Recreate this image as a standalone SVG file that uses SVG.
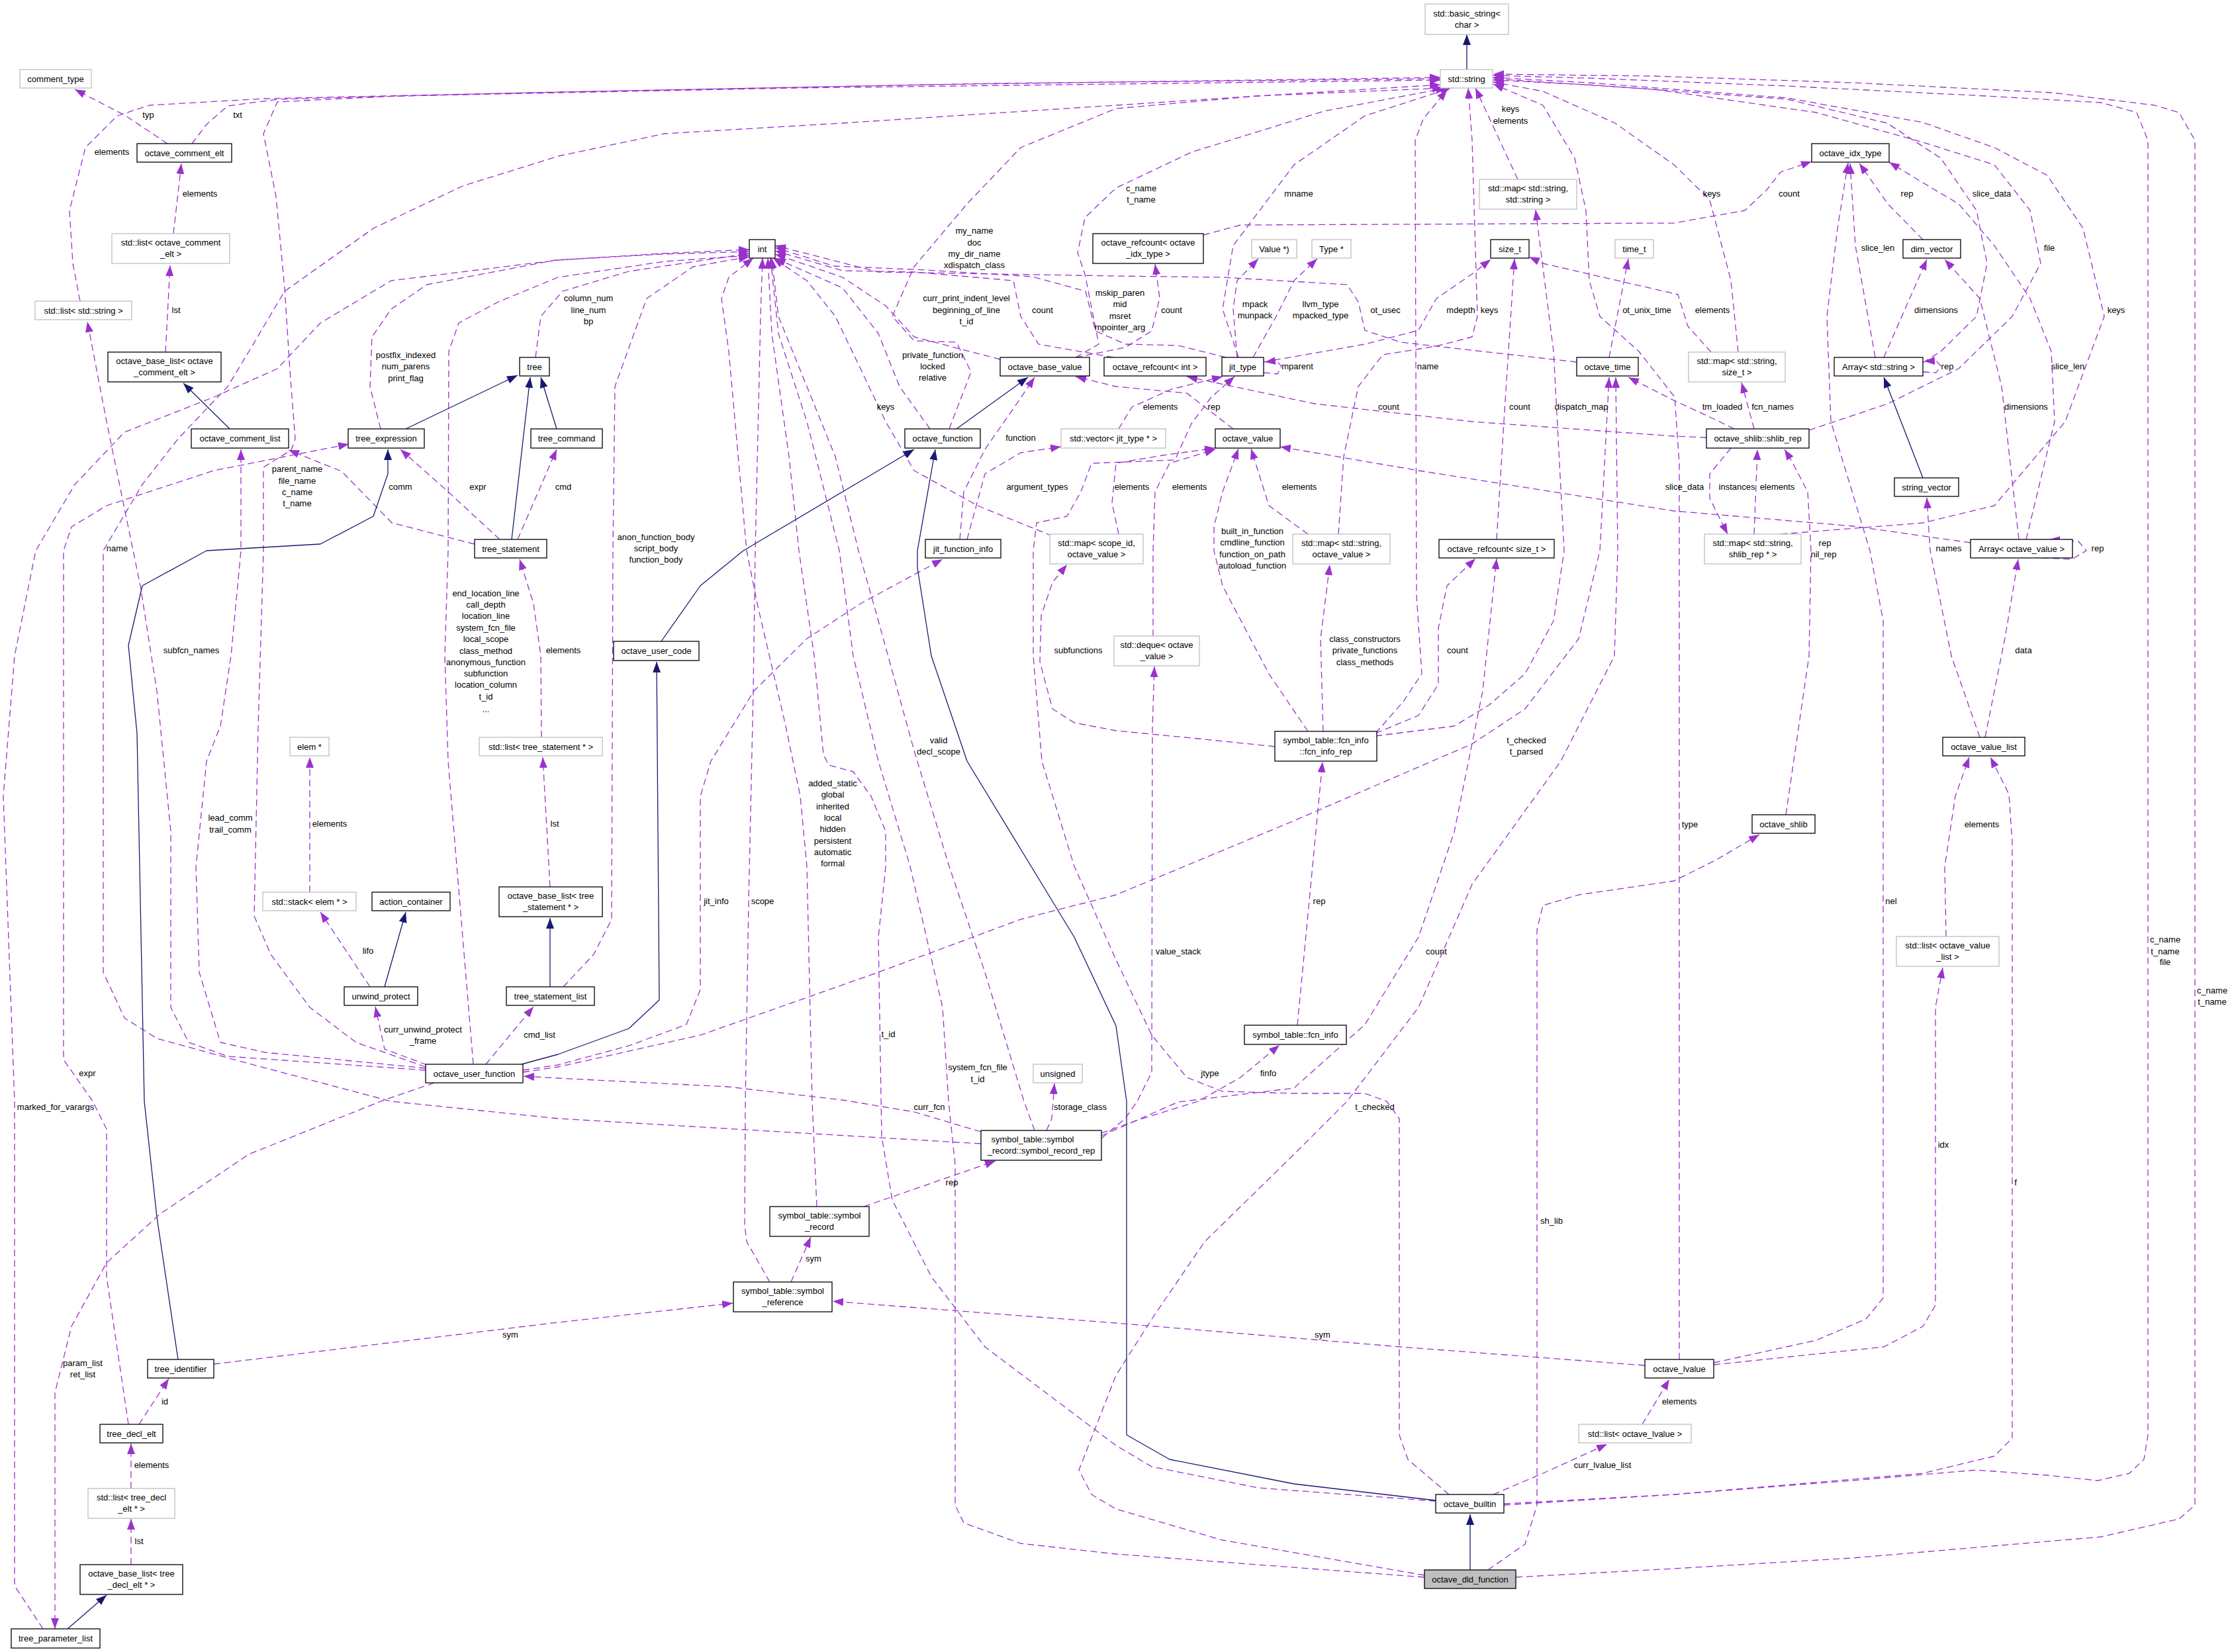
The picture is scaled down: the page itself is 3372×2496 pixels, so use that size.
<svg xmlns="http://www.w3.org/2000/svg" width="3372" height="2496" viewBox="0 0 3372 2496">
<style>
.n rect{fill:#fff;stroke:#000;stroke-width:1.3}
.g rect{fill:#fff;stroke:#bfbfbf;stroke-width:1.3}
text{font-family:"Liberation Sans",Arial,Helvetica,sans-serif;font-size:13px;fill:#000;text-anchor:middle}
.e{fill:none;stroke:#9a32cd;stroke-width:1.3;stroke-dasharray:10,6;stroke-linejoin:round;marker-end:url(#ap)}
.s{fill:none;stroke:#191970;stroke-width:1.3;stroke-linejoin:round;marker-end:url(#an)}
</style>
<defs>
<marker id="ap" markerUnits="userSpaceOnUse" markerWidth="16" markerHeight="12" refX="16" refY="6" orient="auto"><path d="M0,0 L16,6 L0,12 z" fill="#9a32cd" stroke="none"/></marker>
<marker id="an" markerUnits="userSpaceOnUse" markerWidth="16" markerHeight="12" refX="16" refY="6" orient="auto"><path d="M0,0 L16,6 L0,12 z" fill="#191970" stroke="none"/></marker>
</defs>
<rect x="0" y="0" width="3372" height="2496" fill="#fff"/>
<g id="edges">
<path class="s" d="M2216,105 L2216,52"/>
<path class="e" d="M253,217 L190,175 L113,135"/><text x="224" y="177.5">typ</text>
<path class="e" d="M290,217 L312,188 L344,160 L420,150 L800,140 L1400,128 L2176,117"/><text x="359" y="177.5">txt</text>
<path class="e" d="M121,455 L110,398 L105,318 L129,223 L177,175 L226,159 L400,149 L900,138 L1500,126 L2176,119"/><text x="169" y="233.5">elements</text>
<path class="e" d="M262,353 L274,247"/><text x="302" y="296.5">elements</text>
<path class="e" d="M250,532 L257,401"/><text x="266" y="472.5">lst</text>
<path class="s" d="M347,648 L277,579"/>
<path class="e" d="M643,1612 L538,1575 L468,1522 L409,1442 L384,1384 L390,1100 L398,832 L398,706 L440,680 L446,663 L438,560 L430,435 L417,297 L398,202 L419,154 L600,145 L1200,133 L2176,121"/>
<text x="449" y="712.5">parent_name</text><text x="449" y="730.5">file_name</text><text x="449" y="747.5">c_name</text><text x="449" y="764.5">t_name</text>
<path class="e" d="M1482,1728 L843,1690 L591,1664 L376,1607 L237,1569 L188,1538 L156,1469 L156,885 L156,832 L215,732 L269,663 L344,584 L376,531 L430,440 L564,345 L699,281 L843,236 L1004,202 L1273,186 L1686,159 L1900,145 L2176,128"/><text x="177" y="832.5">name</text>
<path class="e" d="M1434,648 L1467,562 L1445,517 L1381,515 L1348,478 L1381,403 L1461,308 L1542,223 L1686,164 L1900,145 L2180,133"/>
<text x="1472" y="353">my_name</text><text x="1472" y="370.5">doc</text><text x="1472" y="387.5">my_dir_name</text><text x="1472" y="405">xdispatch_class</text>
<path class="e" d="M1625,540 L1660,520 L1639,414 L1628,382 L1639,329 L1686,284 L1800,230 L2000,168 L2185,133"/>
<text x="1724" y="288.5">c_name</text><text x="1724" y="305.5">t_name</text>
<path class="e" d="M1871,540 L1847,467 L1863,371 L1955,249 L2062,175 L2192,133"/><text x="1962" y="296.5">mname</text>
<path class="e" d="M2293,271 L2260,200 L2229,133"/><text x="2282" y="169">keys</text><text x="2282" y="186.5">elements</text>
<path class="e" d="M2078,1108 L2120,1060 L2148,1018 L2140,900 L2138,212 L2150,180 L2186,136"/><text x="2157" y="557.5">name</text>
<path class="e" d="M2022,807 L2030,690 L2052,584 L2089,536 L2170,523 L2224,509 L2232,478 L2224,212 L2218,133"/><text x="2250" y="473">keys</text>
<path class="e" d="M2537,2054 L2537,700 L2530,600 L2476,531 L2417,478 L2401,424 L2396,318 L2379,239 L2331,159 L2256,127"/><text x="2553" y="1249.5">type</text>
<path class="e" d="M2626,532 L2615,424 L2583,302 L2529,249 L2440,186 L2331,138 L2256,124"/><text x="2586" y="296.5">keys</text>
<path class="e" d="M2905,548 L2932,531 L2986,478 L3002,398 L2986,318 L2932,239 L2851,186 L2700,150 L2400,128 L2256,121"/><text x="3009" y="296.5">slice_data</text>
<path class="e" d="M2733,650 L2852,610 L2959,557 L3040,478 L3083,398 L3067,318 L3013,249 L2905,215 L2744,170 L2500,135 L2256,119"/><text x="3096" y="378.5">file</text>
<path class="e" d="M2690,807 L2905,790 L3013,764 L3120,637 L3179,478 L3147,345 L3093,265 L3013,223 L2905,185 L2700,148 L2400,125 L2256,117"/><text x="3197" y="473">keys</text>
<path class="e" d="M2272,2272 L2529,2258 L2798,2237 L2986,2221 L3093,2229 L3169,2237 L3217,2226 L3239,2205 L3245,2168 L3245,212 L3228,170 L3174,155 L3000,145 L2700,130 L2400,118 L2256,114"/>
<text x="3271" y="1423.5">c_name</text><text x="3271" y="1441.5">t_name</text><text x="3271" y="1457.5">file</text>
<path class="e" d="M2290,2383 L2529,2370 L2798,2354 L3174,2322 L3292,2295 L3316,2274 L3316,212 L3292,170 L3255,159 L3100,140 L2800,125 L2500,115 L2256,112"/>
<text x="3342" y="1500.5">c_name</text><text x="3342" y="1517.5">t_name</text>
<path class="e" d="M575,648 L559,584 L562,509 L591,467 L645,430 L839,393 L1000,384 L1132,380"/>
<text x="613" y="541">postfix_indexed</text><text x="613" y="558">num_parens</text><text x="613" y="575.5">print_flag</text>
<path class="e" d="M809,540 L817,478 L850,440 L950,410 L1132,383"/>
<text x="889" y="455">column_num</text><text x="889" y="472.5">line_num</text><text x="889" y="490">bp</text>
<path class="e" d="M65,2461 L22,2396 L22,1664 L5,1203 L22,991 L54,832 L113,732 L188,653 L323,600 L419,557 L484,488 L591,424 L843,393 L1000,383 L1132,377"/><text x="84" y="1676.5">marked_for_varargs</text>
<path class="e" d="M715,1608 L699,1416 L677,1150 L672,991 L677,832 L678,531 L693,488 L753,456 L843,419 L1004,395 L1132,386"/>
<text x="734" y="900.5">end_location_line</text><text x="734" y="917.5">call_depth</text><text x="734" y="934.5">location_line</text><text x="734" y="952.5">system_fcn_file</text><text x="734" y="969.5">local_scope</text><text x="734" y="987.5">class_method</text><text x="734" y="1004.5">anonymous_function</text><text x="734" y="1021.5">subfunction</text><text x="734" y="1038.5">location_column</text><text x="734" y="1056.5">t_id</text><text x="734" y="1075.5">...</text>
<path class="e" d="M851,1491 L897,1442 L924,1389 L926,832 L929,584 L977,451 L1047,403 L1132,388"/>
<text x="991" y="815.5">anon_function_body</text><text x="991" y="832.5">script_body</text><text x="991" y="849.5">function_body</text>
<path class="e" d="M1405,648 L1359,584 L1327,504 L1273,435 L1171,390"/>
<text x="1409" y="541">private_function</text><text x="1409" y="558">locked</text><text x="1409" y="575">relative</text>
<path class="e" d="M1511,543 L1381,509 L1338,462 L1273,419 L1171,384"/>
<text x="1460" y="455">curr_print_indent_level</text><text x="1460" y="472.5">beginning_of_line</text><text x="1460" y="490">t_id</text>
<path class="e" d="M1590,810 L1477,764 L1381,711 L1338,637 L1300,557 L1262,478 L1219,424 L1168,390"/><text x="1338" y="618.5">keys</text>
<path class="e" d="M1682,540 L1569,520 L1542,478 L1531,424 L1381,411 L1273,409 L1171,379"/><text x="1575" y="472.5">count</text>
<path class="e" d="M1852,540 L1780,522 L1700,520 L1655,500 L1640,440 L1560,418 L1400,408 L1260,402 L1171,374"/>
<text x="1692" y="446.5">mskip_paren</text><text x="1692" y="464">mid</text><text x="1692" y="481.5">msret</text><text x="1692" y="499">mpointer_arg</text>
<path class="e" d="M2382,547 L2116,517 L2062,499 L2052,456 L2035,430 L1847,419 L1686,417 L1327,411 L1171,371"/><text x="2093" y="473">ot_usec</text>
<path class="e" d="M1163,1937 L1128,1876 L1125,1850 L1126,1664 L1131,1363 L1138,1044 L1141,832 L1149,478 L1152,390"/><text x="1152" y="1366">scope</text>
<path class="e" d="M1234,1823 L1227,1664 L1219,1309 L1209,1203 L1187,1097 L1144,912 L1128,832 L1101,531 L1090,451 L1101,419 L1138,390"/>
<text x="1258" y="1187.5">added_static</text><text x="1258" y="1204.5">global</text><text x="1258" y="1222.5">inherited</text><text x="1258" y="1239.5">local</text><text x="1258" y="1256.5">hidden</text><text x="1258" y="1274.5">persistent</text><text x="1258" y="1291.5">automatic</text><text x="1258" y="1308.5">formal</text>
<path class="e" d="M2169,2268 L1901,2248 L1740,2216 L1686,2184 L1488,2035 L1407,1929 L1348,1813 L1332,1717 L1327,1416 L1338,1310 L1338,1256 L1316,1203 L1289,1166 L1252,1156 L1244,1140 L1230,991 L1207,832 L1192,690 L1166,504 L1160,390"/><text x="1342" y="1566.5">t_id</text>
<path class="e" d="M2152,2383 L1686,2348 L1542,2332 L1456,2301 L1443,2274 L1443,1760 L1433,1664 L1424,1522 L1375,1309 L1327,1150 L1289,991 L1268,832 L1219,637 L1176,504 L1164,390"/>
<text x="1477" y="1617">system_fcn_file</text><text x="1477" y="1634.5">t_id</text>
<path class="e" d="M1563,1708 L1547,1664 L1488,1469 L1434,1309 L1381,1134 L1327,938 L1297,832 L1262,690 L1219,584 L1176,478 L1166,390"/>
<text x="1418" y="1123">valid</text><text x="1418" y="1140">decl_scope</text>
<path class="e" d="M717,822 L592,790 L516,712 L436,680"/><text x="605" y="739.5">comm</text>
<path class="e" d="M755,815 L677,743 L605,679"/><text x="722" y="739.5">expr</text>
<path class="e" d="M782,815 L841,679"/><text x="851" y="739.5">cmd</text>
<path class="s" d="M613,648 L782,567"/>
<path class="s" d="M773,815 L801,570"/>
<path class="s" d="M841,648 L817,570"/>
<path class="e" d="M643,1617 L344,1596 L285,1575 L258,1522 L258,1256 L237,1044 L212,885 L161,637 L132,486"/><text x="289" y="986.5">subfcn_names</text>
<path class="e" d="M643,1614 L400,1590 L333,1575 L301,1469 L296,1310 L312,1150 L333,1097 L349,991 L364,832 L364,679"/>
<text x="348" y="1239.5">lead_comm</text><text x="348" y="1257.5">trail_comm</text>
<path class="e" d="M194,2152 L161,1929 L161,1706 L140,1664 L96,1601 L96,832 L108,796 L161,764 L323,711 L527,671"/><text x="132" y="1625.5">expr</text>
<path class="s" d="M269,2054 L237,1839 L218,1664 L207,1108 L194,975 L215,885 L312,832 L484,822 L564,780 L586,716 L586,679"/>
<path class="e" d="M656,1636 L575,1664 L376,1744 L242,1834 L161,1908 L108,2004 L83,2104 L83,2461"/>
<text x="125" y="2063.5">param_list</text><text x="125" y="2080.5">ret_list</text>
<path class="e" d="M818,1114 L817,991 L806,912 L785,845"/><text x="851" y="986.5">elements</text>
<path class="e" d="M831,1340 L820,1144"/><text x="838" y="1248.5">lst</text>
<path class="e" d="M468,1348 L468,1144"/><text x="498" y="1248.5">elements</text>
<path class="e" d="M559,1491 L484,1378"/><text x="556" y="1440.5">lifo</text>
<path class="s" d="M581,1491 L613,1378"/>
<path class="s" d="M831,1491 L831,1387"/>
<path class="e" d="M645,1609 L581,1585 L567,1521"/>
<text x="639" y="1559.5">curr_unwind_protect</text><text x="639" y="1576.5">_frame</text>
<path class="e" d="M734,1608 L806,1521"/><text x="815" y="1567.5">cmd_list</text>
<path class="s" d="M788,1608 L843,1593 L950,1554 L996,1511 L992,1000"/>
<path class="s" d="M999,969 L1058,885 L1123,832 L1273,743 L1381,679"/>
<path class="s" d="M1445,648 L1553,570"/>
<path class="e" d="M790,1617 L843,1609 L950,1580 L1037,1548 L1058,1495 L1058,1203 L1074,1150 L1139,1044 L1219,965 L1300,912 L1424,845"/><text x="1082" y="1366">jit_info</text>
<path class="e" d="M1450,815 L1456,743 L1488,679 L1536,610 L1563,570"/><text x="1542" y="665.5">function</text>
<path class="e" d="M1461,815 L1488,716 L1542,684 L1603,675"/><text x="1567" y="739.5">argument_types</text>
<path class="e" d="M790,1620 L843,1612 L1058,1564 L1327,1469 L1542,1389 L1686,1352 L1955,1240 L2224,1124 L2304,1071 L2385,965 L2417,832 L2431,570"/>
<text x="2306" y="1123">t_checked</text><text x="2306" y="1140">t_parsed</text>
<path class="e" d="M2152,2380 L1847,2327 L1686,2280 L1649,2258 L1630,2221 L1686,2078 L1740,1993 L1820,1876 L1955,1744 L2035,1664 L2143,1522 L2224,1336 L2358,1150 L2439,991 L2444,832 L2441,570"/><text x="2077" y="1676.5">t_checked</text>
<path class="s" d="M2169,2267 L1955,2242 L1767,2205 L1702,2168 L1702,1664 L1686,1550 L1623,1416 L1542,1283 L1461,1150 L1407,991 L1386,858 L1386,832 L1413,679"/>
<path class="s" d="M2221,2372 L2221,2288"/>
<path class="e" d="M2248,2372 L2304,2333 L2322,2274 L2322,1405 L2331,1368 L2385,1352 L2529,1331 L2593,1299 L2658,1261"/><text x="2344" y="1849">sh_lib</text>
<path class="e" d="M2481,2152 L2522,2084"/><text x="2537" y="2121.5">elements</text>
<path class="e" d="M2256,2258 L2331,2226 L2428,2182"/><text x="2421" y="2217.5">curr_lvalue_list</text>
<path class="e" d="M2272,2274 L2529,2258 L2905,2226 L3013,2200 L3040,2173 L3040,1272 L3035,1200 L3007,1144"/><text x="3045" y="1790.5">f</text>
<path class="e" d="M2589,2062 L2846,2035 L2905,2004 L2924,1972 L2924,1522 L2935,1462"/><text x="2936" y="1733.5">idx</text>
<path class="e" d="M2589,2059 L2744,2025 L2819,1993 L2845,1961 L2845,938 L2825,832 L2766,637 L2760,478 L2776,345 L2792,246"/><text x="2857" y="1366">nel</text>
<path class="e" d="M2940,1415 L2938,1309 L2954,1203 L2975,1144"/><text x="2994" y="1249.5">elements</text>
<path class="e" d="M2991,1114 L2948,991 L2916,832 L2911,752"/><text x="2944" y="832.5">names</text>
<path class="e" d="M2999,1114 L3029,964 L3049,845"/><text x="3057" y="986.5">data</text>
<path class="s" d="M2905,722 L2846,570"/>
<path class="e" d="M2833,540 L2803,371 L2795,247"/><text x="2837" y="378.5">slice_len</text>
<path class="e" d="M2846,540 L2878,467 L2911,392"/><text x="2925" y="473">dimensions</text>
<path class="e" d="M2905,362 L2852,308 L2809,247"/><text x="2881" y="296.5">rep</text>
<path class="e" d="M2905,562 L2925,563 L2932,553 L2925,545 L2907,546"/><text x="2942" y="558">rep</text>
<path class="e" d="M1818,355 L1874,340 L2529,337 L2636,318 L2669,287 L2690,260 L2737,244"/><text x="2703" y="296.5">count</text>
<path class="e" d="M3061,815 L3104,637 L3099,531 L3067,451 L3013,371 L2959,308 L2905,276 L2854,245"/><text x="3124" y="558">slice_len</text>
<path class="e" d="M3050,815 L3024,584 L2991,451 L2938,392"/><text x="3061" y="618.5">dimensions</text>
<path class="e" d="M3085,843 L3130,845 L3152,832 L3140,818 L3096,815"/><text x="3169" y="832.5">rep</text>
<path class="e" d="M2977,820 L2800,795 L2529,772 L2143,711 L1934,675"/><text x="2545" y="739.5">slice_data</text>
<path class="e" d="M2620,648 L2583,630 L2529,605 L2460,570"/><text x="2602" y="618.5">tm_loaded</text>
<path class="e" d="M2650,648 L2631,578"/><text x="2678" y="618.5">fcn_names</text>
<path class="e" d="M2615,677 L2583,716 L2583,753 L2610,807"/><text x="2624" y="739.5">instances</text>
<path class="e" d="M2650,807 L2655,679"/><text x="2685" y="739.5">elements</text>
<path class="e" d="M2698,1231 L2733,991 L2736,832 L2731,743 L2706,695 L2696,679"/>
<text x="2757" y="824.5">rep</text><text x="2755" y="841.5">nil_rep</text>
<path class="e" d="M2585,532 L2550,493 L2535,445 L2331,398 L2310,388"/><text x="2587" y="473">elements</text>
<path class="e" d="M2261,815 L2272,637 L2288,391"/><text x="2296" y="618.5">count</text>
<path class="e" d="M1909,547 L2062,520 L2143,499 L2170,451 L2224,414 L2252,392"/><text x="2207" y="473">mdepth</text>
<path class="e" d="M2431,540 L2460,391"/><text x="2488" y="473">ot_unix_time</text>
<path class="e" d="M1869,540 L1863,467 L1869,424 L1901,391"/>
<text x="1896" y="464">mpack</text><text x="1896" y="481">munpack</text>
<path class="e" d="M1893,540 L1928,478 L1955,424 L1990,391"/>
<text x="1995" y="464">llvm_type</text><text x="1995" y="481">mpacked_type</text>
<path class="e" d="M1909,563 L1930,565 L1936,553 L1928,545 L1911,547"/><text x="1960" y="558">mparent</text>
<path class="e" d="M1625,540 L1700,525 L1740,500 L1752,450 L1745,399"/><text x="1770" y="473">count</text>
<path class="e" d="M2578,661 L2529,659 L2224,637 L1986,610 L1793,569"/><text x="2098" y="618.5">count</text>
<path class="e" d="M1863,648 L1793,594 L1686,584 L1625,569"/><text x="1834" y="618.5">rep</text>
<path class="e" d="M1690,648 L1710,615 L1770,588 L1847,569"/><text x="1753" y="618.5">elements</text>
<path class="e" d="M2189,2258 L2127,2205 L2114,2168 L2114,1690 L2095,1664 L2062,1652 L1955,1652 L1847,1649 L1793,1628 L1740,1564 L1686,1450 L1623,1309 L1574,1150 L1561,991 L1561,832 L1566,790 L1612,780 L1633,743 L1649,700 L1775,695 L1800,640 L1830,600 L1865,569"/><text x="1828" y="1626">jtype</text>
<path class="e" d="M1742,961 L1742,832 L1745,743 L1767,700 L1836,679"/><text x="1797" y="739.5">elements</text>
<path class="e" d="M1690,807 L1680,760 L1686,700 L1756,688 L1836,677"/><text x="1710" y="739.5">elements</text>
<path class="e" d="M1976,807 L1917,764 L1890,678"/><text x="1963" y="739.5">elements</text>
<path class="e" d="M1976,1105 L1917,1018 L1847,885 L1834,832 L1834,796 L1847,743 L1871,678"/>
<text x="1892" y="806.5">built_in_function</text><text x="1892" y="823.5">cmdline_function</text><text x="1892" y="841.5">function_on_path</text><text x="1892" y="858.5">autoload_function</text>
<path class="e" d="M1999,1105 L1995,965 L2009,853"/>
<text x="2062" y="969.5">class_constructors</text><text x="2062" y="987">private_functions</text><text x="2062" y="1004.5">class_methods</text>
<path class="e" d="M1926,1128 L1800,1115 L1686,1104 L1623,1092 L1590,1071 L1571,1000 L1573,930 L1590,880 L1612,853"/><text x="1629" y="986.5">subfunctions</text>
<path class="e" d="M1960,1549 L1998,1151"/><text x="1993" y="1366">rep</text>
<path class="e" d="M2078,1108 L2143,1081 L2173,1034 L2173,949 L2186,885 L2229,844"/><text x="2202" y="987">count</text>
<path class="e" d="M2078,1112 L2197,1097 L2250,1065 L2304,1018 L2347,938 L2363,832 L2347,531 L2320,317"/><text x="2389" y="618.5">dispatch_map</text>
<path class="e" d="M1664,1712 L1720,1692 L1810,1664 L1874,1628 L1933,1579"/><text x="1916" y="1626">finfo</text>
<path class="e" d="M1664,1716 L1780,1665 L1955,1644 L2062,1548 L2143,1416 L2197,1257 L2240,1044 L2261,844"/><text x="2170" y="1441.5">count</text>
<path class="e" d="M1664,1720 L1700,1690 L1718,1664 L1740,1620 L1741,1100 L1744,1007"/><text x="1780" y="1441.5">value_stack</text>
<path class="e" d="M1581,1708 L1589,1690 L1593,1637"/><text x="1632" y="1676.5">storage_class</text>
<path class="e" d="M1482,1710 L1381,1680 L1273,1662 L1100,1642 L843,1629 L791,1626"/><text x="1404" y="1676.5">curr_fcn</text>
<path class="e" d="M1305,1823 L1504,1754"/><text x="1438" y="1791">rep</text>
<path class="e" d="M1195,1937 L1225,1869"/><text x="1229" y="1906">sym</text>
<path class="e" d="M323,2061 L843,1998 L1107,1969"/><text x="771" y="2021">sym</text>
<path class="e" d="M2485,2063 L2116,2035 L1686,1999 L1258,1966"/><text x="1998" y="2021">sym</text>
<path class="e" d="M210,2152 L255,2083"/><text x="249" y="2121.5">id</text>
<path class="e" d="M198,2249 L198,2181"/><text x="229" y="2217.5">elements</text>
<path class="e" d="M198,2364 L198,2295"/><text x="210" y="2332.5">lst</text>
<path class="s" d="M102,2461 L161,2410"/>
</g>
<g id="n_basic_string" class="g"><rect x="2153" y="6" width="126" height="46"/><text x="2216" y="24.5">std::basic_string&lt;</text><text x="2216" y="41.5">char &gt;</text></g>
<g id="n_std_string" class="g"><rect x="2176" y="105" width="79" height="28"/><text x="2215.5" y="123.5">std::string</text></g>
<g id="n_comment_type" class="g"><rect x="30" y="105" width="108" height="28"/><text x="84" y="123.5">comment_type</text></g>
<g id="n_octave_comment_elt" class="n"><rect x="207" y="217" width="143" height="28"/><text x="278.5" y="235.5">octave_comment_elt</text></g>
<g id="n_list_comment_elt" class="g"><rect x="169" y="353" width="178" height="45"/><text x="258" y="371">std::list&lt; octave_comment</text><text x="258" y="388">_elt &gt;</text></g>
<g id="n_list_string" class="g"><rect x="53" y="455" width="146" height="28"/><text x="126" y="473.5">std::list&lt; std::string &gt;</text></g>
<g id="n_base_list_comment" class="n"><rect x="163" y="532" width="171" height="45"/><text x="248.5" y="550">octave_base_list&lt; octave</text><text x="248.5" y="567">_comment_elt &gt;</text></g>
<g id="n_octave_comment_list" class="n"><rect x="289" y="648" width="147" height="29"/><text x="362.5" y="667">octave_comment_list</text></g>
<g id="n_tree_expression" class="n"><rect x="526" y="648" width="115" height="29"/><text x="583.5" y="667">tree_expression</text></g>
<g id="n_tree" class="n"><rect x="785" y="540" width="45" height="28"/><text x="807.5" y="558.5">tree</text></g>
<g id="n_tree_command" class="n"><rect x="802" y="648" width="108" height="29"/><text x="856" y="667">tree_command</text></g>
<g id="n_tree_statement" class="n"><rect x="717" y="815" width="109" height="28"/><text x="771.5" y="833.5">tree_statement</text></g>
<g id="n_int" class="n"><rect x="1132" y="362" width="39" height="28"/><text x="1151.5" y="380.5">int</text></g>
<g id="n_octave_base_value" class="n"><rect x="1511" y="540" width="135" height="28"/><text x="1578.5" y="558.5">octave_base_value</text></g>
<g id="n_octave_function" class="n"><rect x="1367" y="648" width="114" height="29"/><text x="1424" y="667">octave_function</text></g>
<g id="n_jit_function_info" class="n"><rect x="1398" y="815" width="114" height="28"/><text x="1455" y="833.5">jit_function_info</text></g>
<g id="n_vector_jit_type" class="g"><rect x="1603" y="648" width="158" height="29"/><text x="1682" y="667">std::vector&lt; jit_type * &gt;</text></g>
<g id="n_map_scope_id" class="g"><rect x="1586" y="807" width="141" height="45"/><text x="1656.5" y="825">std::map&lt; scope_id,</text><text x="1656.5" y="842">octave_value &gt;</text></g>
<g id="n_refcount_idx" class="n"><rect x="1651" y="353" width="167" height="45"/><text x="1734.5" y="371">octave_refcount&lt; octave</text><text x="1734.5" y="388">_idx_type &gt;</text></g>
<g id="n_refcount_int" class="n"><rect x="1668" y="540" width="154" height="28"/><text x="1745" y="558.5">octave_refcount&lt; int &gt;</text></g>
<g id="n_map_string_string" class="g"><rect x="2235" y="271" width="147" height="45"/><text x="2308.5" y="289">std::map&lt; std::string,</text><text x="2308.5" y="306">std::string &gt;</text></g>
<g id="n_value_ptr" class="g"><rect x="1891" y="362" width="68" height="28"/><text x="1925" y="380.5">Value *)</text></g>
<g id="n_type_ptr" class="g"><rect x="1982" y="362" width="59" height="28"/><text x="2011.5" y="380.5">Type *</text></g>
<g id="n_size_t" class="n"><rect x="2252" y="362" width="58" height="28"/><text x="2281" y="380.5">size_t</text></g>
<g id="n_time_t" class="g"><rect x="2440" y="362" width="58" height="28"/><text x="2469" y="380.5">time_t</text></g>
<g id="n_jit_type" class="n"><rect x="1846" y="540" width="63" height="28"/><text x="1877.5" y="558.5">jit_type</text></g>
<g id="n_octave_time" class="n"><rect x="2382" y="540" width="93" height="28"/><text x="2428.5" y="558.5">octave_time</text></g>
<g id="n_octave_value" class="n"><rect x="1836" y="648" width="98" height="29"/><text x="1885" y="667">octave_value</text></g>
<g id="n_map_string_ov" class="g"><rect x="1953" y="807" width="147" height="45"/><text x="2026.5" y="825">std::map&lt; std::string,</text><text x="2026.5" y="842">octave_value &gt;</text></g>
<g id="n_refcount_size_t" class="n"><rect x="2174" y="815" width="174" height="28"/><text x="2261" y="833.5">octave_refcount&lt; size_t &gt;</text></g>
<g id="n_octave_idx_type" class="n"><rect x="2737" y="217" width="117" height="28"/><text x="2795.5" y="235.5">octave_idx_type</text></g>
<g id="n_dim_vector" class="n"><rect x="2875" y="362" width="87" height="28"/><text x="2918.5" y="380.5">dim_vector</text></g>
<g id="n_map_string_size_t" class="g"><rect x="2551" y="532" width="146" height="45"/><text x="2624" y="550">std::map&lt; std::string,</text><text x="2624" y="567">size_t &gt;</text></g>
<g id="n_array_string" class="n"><rect x="2771" y="540" width="134" height="28"/><text x="2838" y="558.5">Array&lt; std::string &gt;</text></g>
<g id="n_shlib_rep" class="n"><rect x="2578" y="648" width="155" height="29"/><text x="2655.5" y="667">octave_shlib::shlib_rep</text></g>
<g id="n_string_vector" class="n"><rect x="2862" y="722" width="97" height="28"/><text x="2910.5" y="740.5">string_vector</text></g>
<g id="n_map_shlib_rep" class="g"><rect x="2575" y="807" width="146" height="45"/><text x="2648" y="825">std::map&lt; std::string,</text><text x="2648" y="842">shlib_rep * &gt;</text></g>
<g id="n_array_ov" class="n"><rect x="2977" y="815" width="154" height="28"/><text x="3054" y="833.5">Array&lt; octave_value &gt;</text></g>
<g id="n_elem_ptr" class="g"><rect x="438" y="1114" width="59" height="28"/><text x="467.5" y="1132.5">elem *</text></g>
<g id="n_list_tree_stmt" class="g"><rect x="724" y="1114" width="186" height="28"/><text x="817" y="1132.5">std::list&lt; tree_statement * &gt;</text></g>
<g id="n_stack_elem" class="g"><rect x="397" y="1348" width="141" height="28"/><text x="467.5" y="1366.5">std::stack&lt; elem * &gt;</text></g>
<g id="n_action_container" class="n"><rect x="562" y="1348" width="118" height="28"/><text x="621" y="1366.5">action_container</text></g>
<g id="n_base_list_tree_stmt" class="n"><rect x="754" y="1340" width="156" height="45"/><text x="832" y="1358">octave_base_list&lt; tree</text><text x="832" y="1375">_statement * &gt;</text></g>
<g id="n_unwind_protect" class="n"><rect x="520" y="1491" width="111" height="28"/><text x="575.5" y="1509.5">unwind_protect</text></g>
<g id="n_tree_statement_list" class="n"><rect x="765" y="1491" width="133" height="28"/><text x="831.5" y="1509.5">tree_statement_list</text></g>
<g id="n_octave_user_function" class="n"><rect x="643" y="1608" width="147" height="28"/><text x="716.5" y="1626.5">octave_user_function</text></g>
<g id="n_octave_user_code" class="n"><rect x="927" y="969" width="129" height="29"/><text x="991.5" y="988">octave_user_code</text></g>
<g id="n_unsigned" class="g"><rect x="1561" y="1608" width="74" height="28"/><text x="1598" y="1626.5">unsigned</text></g>
<g id="n_deque_ov" class="g"><rect x="1683" y="961" width="129" height="45"/><text x="1747.5" y="979">std::deque&lt; octave</text><text x="1747.5" y="996">_value &gt;</text></g>
<g id="n_fcn_info_rep" class="n"><rect x="1926" y="1105" width="154" height="45"/><text x="2003" y="1123">symbol_table::fcn_info</text><text x="2003" y="1140">::fcn_info_rep</text></g>
<g id="n_fcn_info" class="n"><rect x="1880" y="1549" width="154" height="29"/><text x="1957" y="1568">symbol_table::fcn_info</text></g>
<g id="n_octave_value_list" class="n"><rect x="2935" y="1114" width="124" height="28"/><text x="2997" y="1132.5">octave_value_list</text></g>
<g id="n_octave_shlib" class="n"><rect x="2647" y="1231" width="95" height="28"/><text x="2694.5" y="1249.5">octave_shlib</text></g>
<g id="n_list_ovl" class="g"><rect x="2865" y="1415" width="155" height="45"/><text x="2942.5" y="1433">std::list&lt; octave_value</text><text x="2942.5" y="1450">_list &gt;</text></g>
<g id="n_tree_identifier" class="n"><rect x="223" y="2054" width="100" height="28"/><text x="273" y="2072.5">tree_identifier</text></g>
<g id="n_tree_decl_elt" class="n"><rect x="151" y="2152" width="95" height="28"/><text x="198.5" y="2170.5">tree_decl_elt</text></g>
<g id="n_list_tree_decl" class="g"><rect x="133" y="2249" width="131" height="45"/><text x="198.5" y="2267">std::list&lt; tree_decl</text><text x="198.5" y="2284">_elt * &gt;</text></g>
<g id="n_base_list_tree_decl" class="n"><rect x="121" y="2364" width="155" height="45"/><text x="198.5" y="2382">octave_base_list&lt; tree</text><text x="198.5" y="2399">_decl_elt * &gt;</text></g>
<g id="n_tree_parameter_list" class="n"><rect x="17" y="2461" width="134" height="29"/><text x="84" y="2480">tree_parameter_list</text></g>
<g id="n_symbol_record_rep" class="n"><rect x="1482" y="1708" width="182" height="45"/><text x="1560" y="1726">symbol_table::symbol</text><text x="1573" y="1743">_record::symbol_record_rep</text></g>
<g id="n_symbol_record" class="n"><rect x="1163" y="1823" width="150" height="45"/><text x="1238" y="1841">symbol_table::symbol</text><text x="1238" y="1858">_record</text></g>
<g id="n_symbol_reference" class="n"><rect x="1108" y="1937" width="149" height="45"/><text x="1182.5" y="1955">symbol_table::symbol</text><text x="1182.5" y="1972">_reference</text></g>
<g id="n_octave_builtin" class="n"><rect x="2169" y="2258" width="103" height="28"/><text x="2220.5" y="2276.5">octave_builtin</text></g>
<g id="n_octave_dld_function" class="n"><rect x="2152" y="2372" width="138" height="28" style="fill:#bfbfbf"/><text x="2221" y="2390.5">octave_dld_function</text></g>
<g id="n_octave_lvalue" class="n"><rect x="2485" y="2054" width="104" height="28"/><text x="2537" y="2072.5">octave_lvalue</text></g>
<g id="n_list_lvalue" class="g"><rect x="2385" y="2152" width="170" height="28"/><text x="2470" y="2170.5">std::list&lt; octave_lvalue &gt;</text></g>
</svg>
